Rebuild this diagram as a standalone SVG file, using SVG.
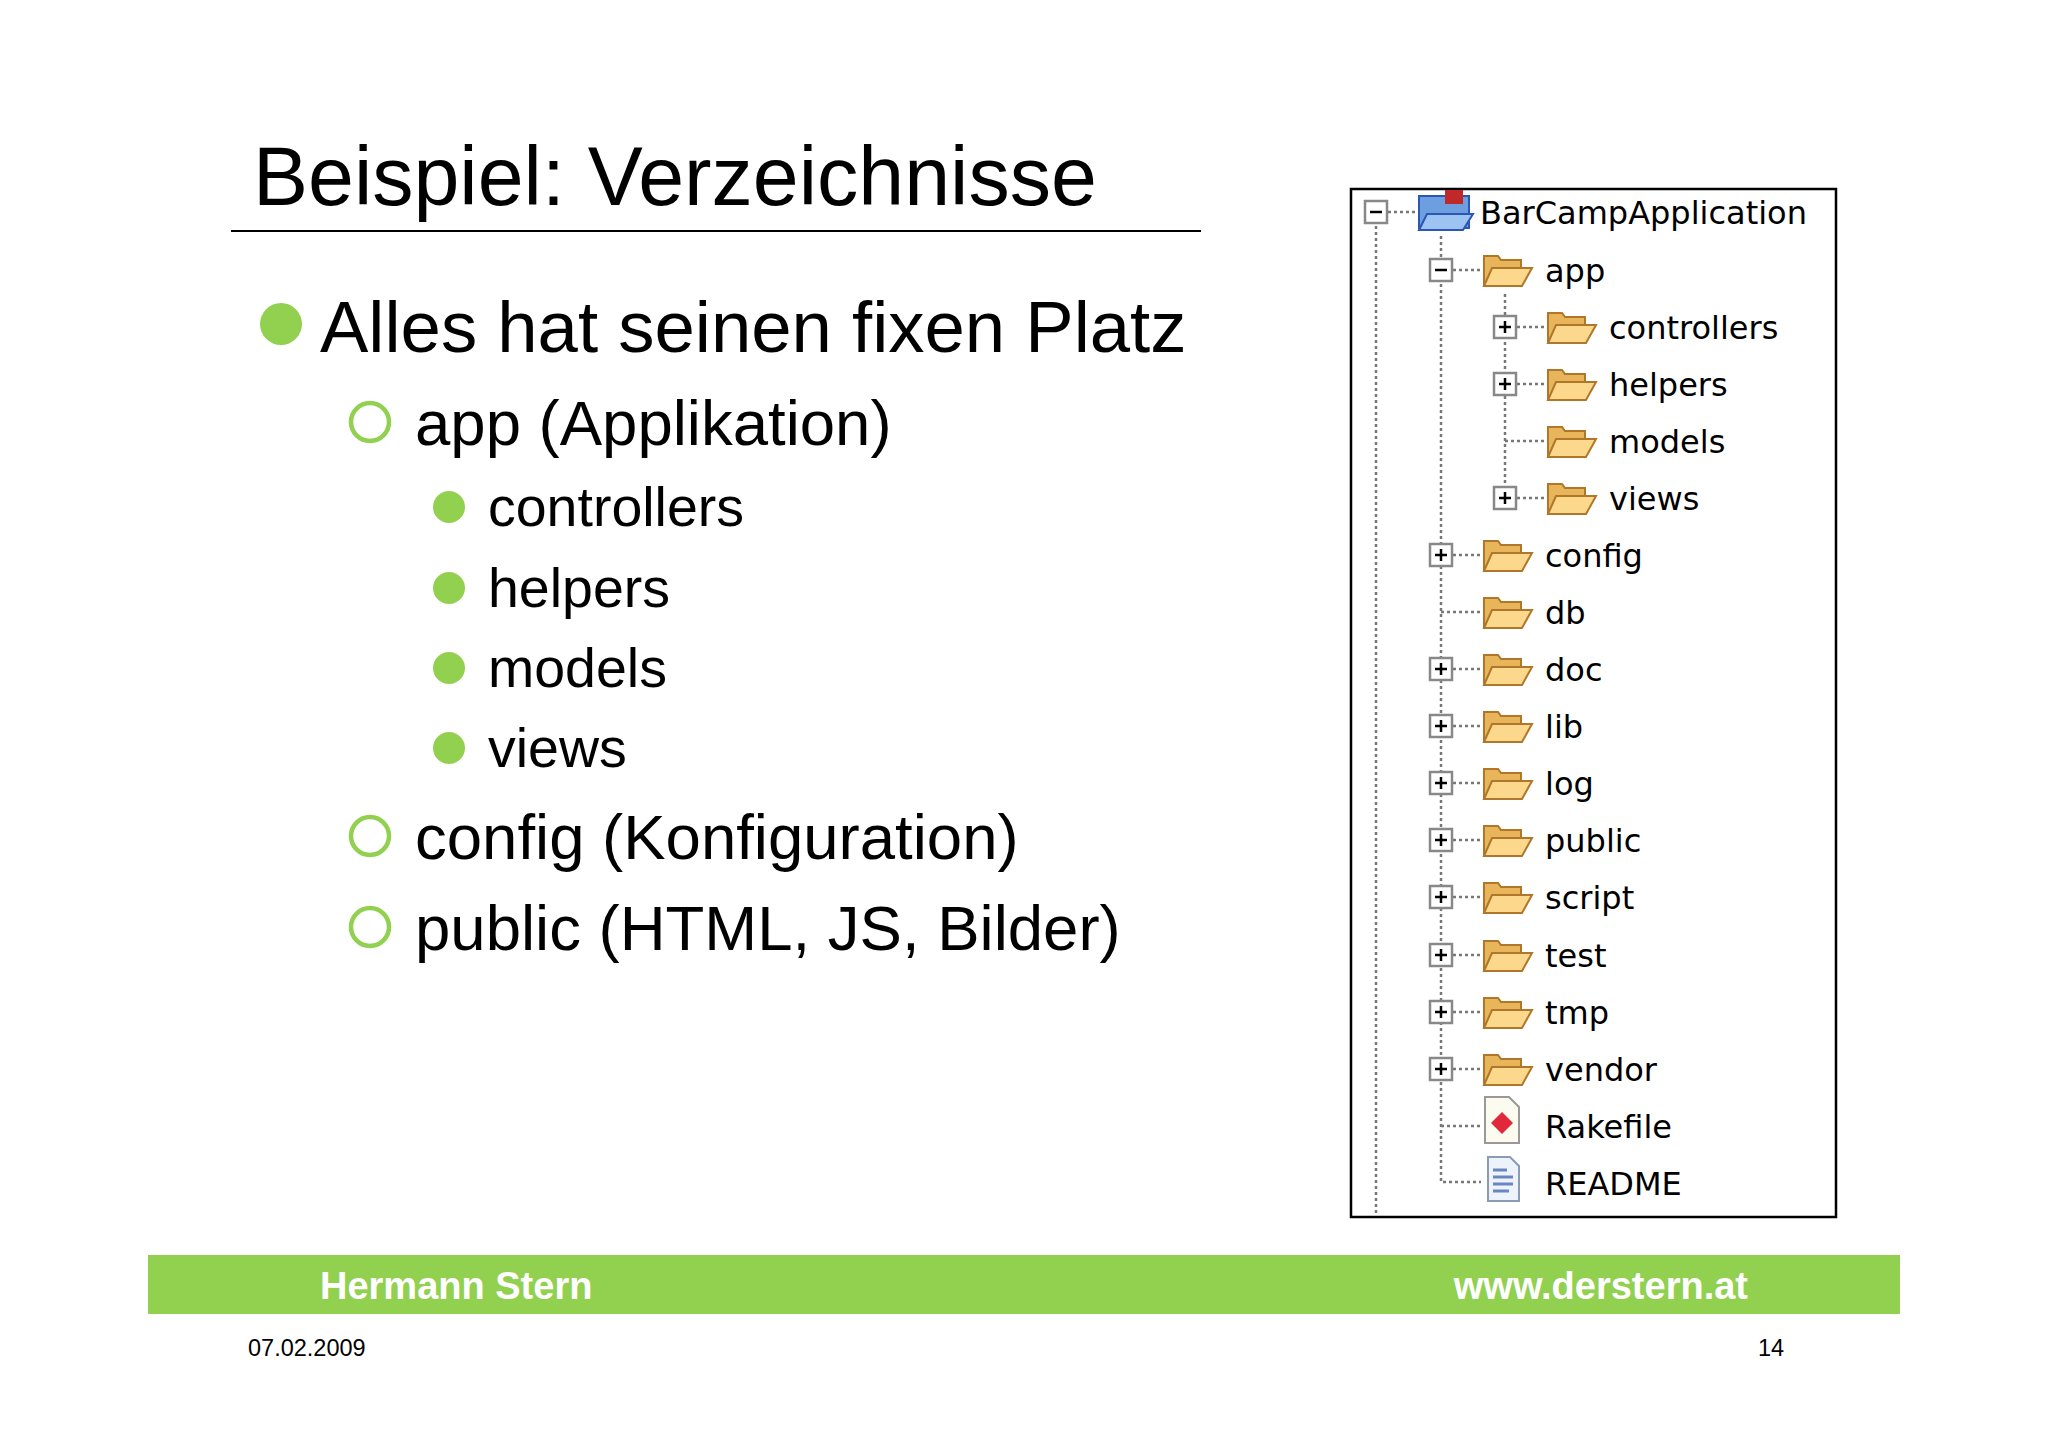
<svg xmlns="http://www.w3.org/2000/svg" width="2048" height="1447" viewBox="0 0 2048 1447">
<style>
.s{font-family:"Liberation Sans",Arial,sans-serif;fill:#000}
.t{font-family:"DejaVu Sans","Liberation Sans",sans-serif;font-size:32px;fill:#000}
.dot{stroke:#777;stroke-width:2.5;stroke-dasharray:3 3;fill:none}
.g{fill:#92d050}
.o{fill:none;stroke:#92d050;stroke-width:4.5}
</style>
<defs>
<g id="folder">
<path d="M2 4 h14 l3 4 h20 v26 h-37 z" fill="#e9b55a" stroke="#b0772a" stroke-width="2"/>
<path d="M2 34 l8 -18 h40 l-10 18 z" fill="#fbd88c" stroke="#b0772a" stroke-width="2"/>
</g>
<g id="plus"><rect x="-11" y="-11" width="22" height="22" fill="#fff" stroke="#888" stroke-width="2.5"/><path d="M-6 0h12M0 -6v12" stroke="#000" stroke-width="2.5"/></g>
<g id="minus"><rect x="-11" y="-11" width="22" height="22" fill="#fff" stroke="#888" stroke-width="2.5"/><path d="M-6 0h12" stroke="#000" stroke-width="2.5"/></g>
</defs>
<rect width="2048" height="1447" fill="#fff"/>
<g id="title">
<text class="s" x="253" y="205" font-size="82.5">Beispiel: Verzeichnisse</text>
<line x1="231" y1="231" x2="1201" y2="231" stroke="#000" stroke-width="2"/>
</g>
<g id="bullets">
<circle class="g" cx="281" cy="324" r="21"/>
<text class="s" x="320" y="352" font-size="72.5">Alles hat seinen fixen Platz</text>
<circle class="o" cx="370" cy="422" r="19"/>
<text class="s" x="415" y="445" font-size="63.5">app (Applikation)</text>
<circle class="g" cx="449" cy="507" r="16"/><text class="s" x="488" y="526" font-size="55.5">controllers</text>
<circle class="g" cx="449" cy="588" r="16"/><text class="s" x="488" y="607" font-size="55.5">helpers</text>
<circle class="g" cx="449" cy="668" r="16"/><text class="s" x="488" y="687" font-size="55.5">models</text>
<circle class="g" cx="449" cy="748" r="16"/><text class="s" x="488" y="767" font-size="55.5">views</text>
<circle class="o" cx="370" cy="836" r="19"/>
<text class="s" x="415" y="859" font-size="63.5">config (Konfiguration)</text>
<circle class="o" cx="370" cy="927" r="19"/>
<text class="s" x="415" y="950" font-size="63.5">public (HTML, JS, Bilder)</text>
</g>
<g id="tree">
<rect x="1351" y="189" width="485" height="1028" fill="#fff" stroke="#000" stroke-width="2.5"/>
<g id="connectors">
<path class="dot" d="M1376 226V1215M1441 236V1182h40M1505 294V498M1505 441h40M1441 612h40"/>
<path class="dot" d="M1388 212h28M1453 270h27M1517 327h27M1517 384h27M1517 498h27M1453 555h27M1453 669h27M1453 726h27M1453 783h27M1453 840h27M1453 897h27M1453 955h27M1453 1012h27M1453 1069h27M1441 1126h40"/>
</g>
<use href="#minus" x="1376" y="212"/>
<path d="M1419 196h50v32h-50z" fill="#6d9fe0" stroke="#2b56b4" stroke-width="2"/>
<path d="M1419 230l8 -16h46l-10 16z" fill="#9cc3f2" stroke="#2b56b4" stroke-width="2"/>
<rect x="1445" y="190" width="18" height="14" fill="#c0282a"/>
<text class="t" x="1480" y="224">BarCampApplication</text>
<use href="#minus" x="1441" y="270"/><use href="#folder" x="1482" y="252"/><text class="t" x="1545" y="282">app</text>
<use href="#plus" x="1505" y="327"/><use href="#folder" x="1546" y="309"/><text class="t" x="1609" y="339">controllers</text>
<use href="#plus" x="1505" y="384"/><use href="#folder" x="1546" y="366"/><text class="t" x="1609" y="396">helpers</text>
<use href="#folder" x="1546" y="423"/><text class="t" x="1609" y="453">models</text>
<use href="#plus" x="1505" y="498"/><use href="#folder" x="1546" y="480"/><text class="t" x="1609" y="510">views</text>
<use href="#plus" x="1441" y="555"/><use href="#folder" x="1482" y="537"/><text class="t" x="1545" y="567">config</text>
<use href="#folder" x="1482" y="594"/><text class="t" x="1545" y="624">db</text>
<use href="#plus" x="1441" y="669"/><use href="#folder" x="1482" y="651"/><text class="t" x="1545" y="681">doc</text>
<use href="#plus" x="1441" y="726"/><use href="#folder" x="1482" y="708"/><text class="t" x="1545" y="738">lib</text>
<use href="#plus" x="1441" y="783"/><use href="#folder" x="1482" y="765"/><text class="t" x="1545" y="795">log</text>
<use href="#plus" x="1441" y="840"/><use href="#folder" x="1482" y="822"/><text class="t" x="1545" y="852">public</text>
<use href="#plus" x="1441" y="897"/><use href="#folder" x="1482" y="879"/><text class="t" x="1545" y="909">script</text>
<use href="#plus" x="1441" y="955"/><use href="#folder" x="1482" y="937"/><text class="t" x="1545" y="967">test</text>
<use href="#plus" x="1441" y="1012"/><use href="#folder" x="1482" y="994"/><text class="t" x="1545" y="1024">tmp</text>
<use href="#plus" x="1441" y="1069"/><use href="#folder" x="1482" y="1051"/><text class="t" x="1545" y="1081">vendor</text>
<path d="M1485 1097h24l10 10v36h-34z" fill="#fbfbf0" stroke="#999" stroke-width="2"/>
<path d="M1502 1112l11 11-11 11-11-11z" fill="#e0283a"/>
<text class="t" x="1545" y="1138">Rakefile</text>
<path d="M1488 1157h22l9 9v35h-31z" fill="#eef3fb" stroke="#8a9bb8" stroke-width="2"/>
<path d="M1493 1170h14M1493 1177h20M1493 1184h20M1493 1191h16" stroke="#6a86c0" stroke-width="3"/>
<text class="t" x="1545" y="1195">README</text>
</g>
<g id="footer">
<rect x="148" y="1255" width="1752" height="59" fill="#92d050"/>
<text x="320" y="1299" font-family="Liberation Sans,Arial,sans-serif" font-weight="bold" font-size="38" fill="#fff">Hermann Stern</text>
<text x="1748" y="1299" text-anchor="end" font-family="Liberation Sans,Arial,sans-serif" font-weight="bold" font-size="38" fill="#fff">www.derstern.at</text>
<text class="s" x="248" y="1356" font-size="23.5">07.02.2009</text>
<text class="s" x="1771" y="1356" font-size="23.5" text-anchor="middle">14</text>
</g>
</svg>
